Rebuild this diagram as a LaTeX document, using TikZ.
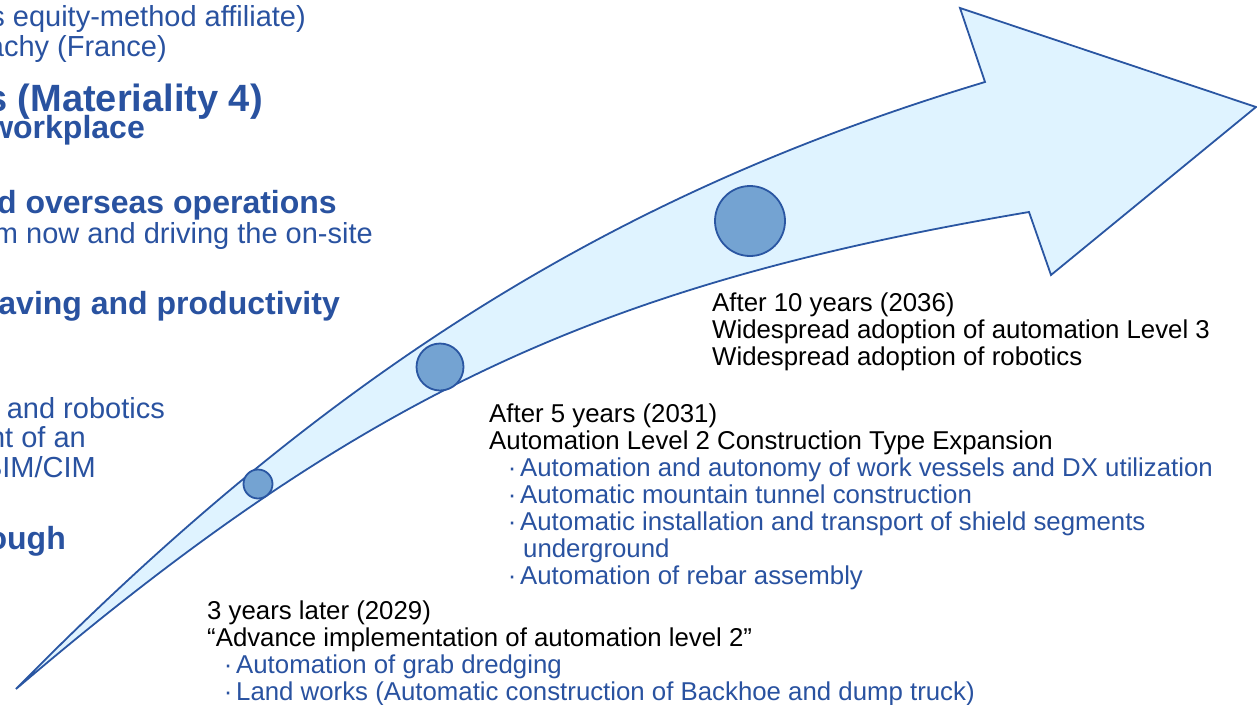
\documentclass[tikz,border=0pt]{standalone}
\usepackage{fontspec}
\setmainfont{Liberation Sans}
\definecolor{roadblue}{HTML}{2952A0}
\definecolor{roadline}{HTML}{2A56A2}
\definecolor{roadfill}{HTML}{DFF3FF}
\definecolor{dotfill}{HTML}{74A3D2}
\newcommand{\bul}{\makebox[16pt]{·}}

\begin{document}
\begin{tikzpicture}[x=1pt,y=-1pt]
\tikzset{lefttxt/.style = {anchor=base east,inner sep=0pt,text=roadblue,font=\fontsize{29}{30}\selectfont}}
\tikzset{lefthead/.style = {lefttxt,font=\fontsize{32}{34}\selectfont\bfseries}}
% base of a multi-line node = baseline of its last line
\tikzset{stagetxt/.style = {anchor=base west,inner sep=0pt,align=left,font=\fontsize{25.8}{26.9}\selectfont}}
\tikzset{milestone/.style = {shape=circle,draw=roadline,fill=dotfill,line width=1.8pt,inner sep=0pt}}
\tikzset{road/.style = {draw=roadline,fill=roadfill,line width=1.8pt,line join=miter}}
\useasboundingbox (0,0) rectangle (1257,704);
\clip (0,0) rectangle (1257,704);
% left column
\node[lefttxt] (affil) at (306,27) {s equity-method affiliate)};
\node[lefttxt] (bachy) at (167,56) {achy (France)};
\node[lefthead,font=\fontsize{38}{40}\selectfont\bfseries] (matl) at (263,111) {s (Materiality 4)};
\node[lefthead] (work) at (145,138) {workplace};
\node[lefthead] (overseas) at (337,213) {d overseas operations};
\node[lefttxt] (onsite) at (373,243) {m now and driving the on-site};
\node[lefthead] (saving) at (340,314) {aving and productivity};
\node[lefttxt] (robot) at (165,418) {and robotics};
\node[lefttxt] (dev) at (86,447) {nt of an};
\node[lefttxt] (bim) at (96,477) {BIM/CIM};
\node[lefthead] (through) at (66,549) {ough};
% arrow
\draw[road] (16,689) .. controls (340,359) and (632,188) .. (985,82)
  -- (960,8) -- (1256,107) -- (1051,275) -- (1029,212)
  .. controls (610,283) and (370,387) .. (16,689) -- cycle;
% milestones
\node[milestone,minimum size=29pt] (c3) at (258,484) {};
\node[milestone,minimum size=47pt] (c5) at (440,367) {};
\node[milestone,minimum size=70pt] (c10) at (750,221) {};
% stage texts
\node[stagetxt] (yr10) at (712,365) {After 10 years (2036)\\
  Widespread adoption of automation Level 3\\
  Widespread adoption of robotics};
\node[stagetxt] (yr5) at (489,584) {After 5 years (2031)\\
  Automation Level 2 Construction Type Expansion\\
  \hspace*{15pt}{\color{roadblue}\bul Automation and autonomy of work vessels and DX utilization}\\
  \hspace*{15pt}{\color{roadblue}\bul Automatic mountain tunnel construction}\\
  \hspace*{15pt}{\color{roadblue}\bul Automatic installation and transport of shield segments}\\
  \hspace*{34pt}{\color{roadblue}underground}\\
  \hspace*{15pt}{\color{roadblue}\bul Automation of rebar assembly}};
\node[stagetxt] (yr3) at (207,700) {3 years later (2029)\\
  “Advance implementation of automation level 2”\\
  \hspace*{13pt}{\color{roadblue}\bul Automation of grab dredging}\\
  \hspace*{13pt}{\color{roadblue}\bul Land works (Automatic construction of Backhoe and dump truck)}};
\end{tikzpicture}
\end{document}
